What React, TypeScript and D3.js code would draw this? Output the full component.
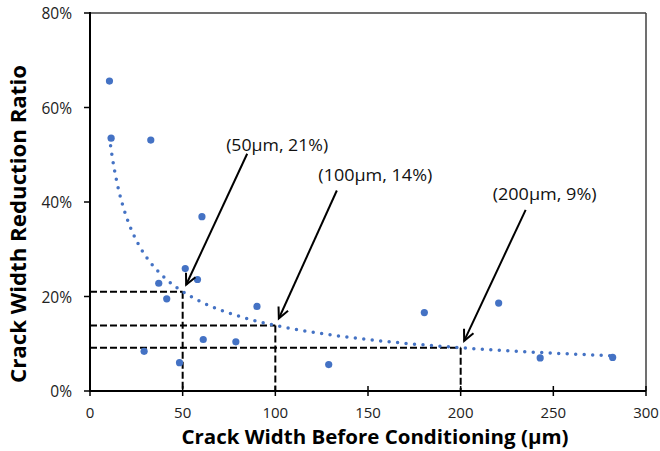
import * as d3 from "d3";

// crack width before conditioning (µm) and reduction ratio
const crackWidths = [10.5, 11.4, 32.8, 60.4, 51.4, 58.0, 37.1, 41.4, 90.1, 61.1, 78.7, 29.2, 48.3, 128.8, 180.4, 220.5, 242.9, 282.0];
const reductionRatios = [0.656, 0.535, 0.531, 0.369, 0.259, 0.236, 0.228, 0.195, 0.179, 0.109, 0.104, 0.084, 0.06, 0.056, 0.166, 0.186, 0.07, 0.071];

// power trendline y = a * x^b (as fitted in the original)
const trendA = 2.2;
const trendB = -0.6;

const xTicks = [0, 50, 100, 150, 200, 250, 300];
const yTicks = [0, 0.2, 0.4, 0.6, 0.8];

const calloutX = [50, 100, 200];
const calloutY = [0.21, 0.1386, 0.0914];
const calloutLabels = ["(50μm, 21%)", "(100μm, 14%)", "(200μm, 9%)"];

const blue = "#4472C4";
const font = "'Open Sans', 'Liberation Sans', sans-serif";

export default function App() {
  const width = 660;
  const height = 451;
  const marginLeft = 90;
  const marginRight = 14;
  const marginTop = 13;
  const marginBottom = 60;

  const x = d3.scaleLinear().domain([0, 300]).range([marginLeft, width - marginRight]);
  const y = d3.scaleLinear().domain([0, 0.8]).range([height - marginBottom, marginTop]);

  const points = crackWidths.map((w, i) => ({ w, r: reductionRatios[i] }));
  const [xMin, xMax] = d3.extent(crackWidths) as [number, number];
  const trendData = d3.range(xMin, xMax + 0.01, 0.5).map((w) => ({ w, r: trendA * Math.pow(w, trendB) }));
  const trendLine = d3
    .line<{ w: number; r: number }>()
    .x((d) => x(d.w))
    .y((d) => y(d.r));

  // label placement relative to the arrow tip (pixels)
  const labelOffsets = [
    { lx: 91, ly: -134, sx: 61, sy: -131, len: 102 },
    { lx: 96.5, ly: -138, sx: 58, sy: -128, len: 114 },
    { lx: 80.5, ly: -141, sx: 61.5, sy: -131, len: 104 },
  ];

  const x0 = x(0);
  const y0 = y(0);

  return (
    <svg width={width} height={height} style={{ position: "absolute", left: 0, top: 0, background: "white" }}>
      {/* frame */}
      <line x1={x0} x2={x(300)} y1={y(0.8)} y2={y(0.8)} stroke="#404040" strokeWidth={1.5} />
      <line x1={x(300)} x2={x(300)} y1={y(0.8)} y2={y0} stroke="#404040" strokeWidth={1.5} />

      {/* dashed guide lines */}
      {calloutX.map((cx, i) => (
        <g key={"guide" + cx}>
          <line
            x1={x0}
            x2={x(cx)}
            y1={y(calloutY[i])}
            y2={y(calloutY[i])}
            stroke="black"
            strokeWidth={2}
            strokeDasharray="7 3"
          />
          <line
            x1={x(cx)}
            x2={x(cx)}
            y1={y(calloutY[i])}
            y2={y0}
            stroke="black"
            strokeWidth={2}
            strokeDasharray="7 3"
          />
        </g>
      ))}

      {/* trendline */}
      <path
        d={trendLine(trendData) ?? ""}
        fill="none"
        stroke={blue}
        strokeWidth={3.5}
        strokeLinecap="round"
        strokeDasharray="0 8.5"
      />

      {/* points */}
      {points.map((d, i) => (
        <circle key={i} cx={x(d.w)} cy={y(d.r)} r={3.6} fill={blue} />
      ))}

      {/* callouts */}
      {calloutX.map((cx, i) => {
        const tx = x(cx) + 3.5;
        const ty = y(calloutY[i]) - 7;
        const o = labelOffsets[i];
        const sx = tx + o.sx;
        const sy = ty + o.sy;
        const ang = Math.atan2(sy - ty, sx - tx);
        const head = 12;
        const spread = 0.45;
        const h1 = [tx + head * Math.cos(ang - spread), ty + head * Math.sin(ang - spread)];
        const h2 = [tx + head * Math.cos(ang + spread), ty + head * Math.sin(ang + spread)];
        return (
          <g key={"call" + cx}>
            <line x1={sx} y1={sy} x2={tx} y2={ty} stroke="black" strokeWidth={2} />
            <polyline
              points={`${h1[0]},${h1[1]} ${tx},${ty} ${h2[0]},${h2[1]}`}
              fill="none"
              stroke="black"
              strokeWidth={2}
            />
            <text
              x={tx + o.lx}
              y={ty + o.ly}
              textAnchor="middle"
              fontFamily={font}
              fontSize={16.5}
              fill="#111"
              textLength={o.len}
              lengthAdjust="spacingAndGlyphs"
            >
              {calloutLabels[i]}
            </text>
          </g>
        );
      })}

      {/* x axis */}
      <line x1={x0 - 1} x2={x(300)} y1={y0} y2={y0} stroke="black" strokeWidth={2} />
      {xTicks.map((t) => (
        <g key={"xt" + t}>
          <line x1={x(t)} x2={x(t)} y1={y0 - 5} y2={y0 + 5} stroke="black" strokeWidth={1.5} />
          <text x={x(t)} y={y0 + 27} textAnchor="middle" fontFamily={font} fontSize={15} fill="#222">
            {t}
          </text>
        </g>
      ))}

      {/* y axis */}
      <line x1={x0} x2={x0} y1={y(0.8) - 1} y2={y0 + 1} stroke="black" strokeWidth={2} />
      {yTicks.map((t) => (
        <g key={"yt" + t}>
          <line x1={x0 - 6} x2={x0} y1={y(t)} y2={y(t)} stroke="black" strokeWidth={1.5} />
          <text
            x={x0 - 18}
            y={y(t)}
            textAnchor="end"
            dominantBaseline="central"
            fontFamily={font}
            fontSize={15.5}
            fill="#222"
          >
            {d3.format(".0%")(t)}
          </text>
        </g>
      ))}

      {/* axis titles */}
      <text
        x={375}
        y={444}
        textAnchor="middle"
        fontFamily={font}
        fontWeight="bold"
        fontSize={20}
        fill="black"
        textLength={387}
        lengthAdjust="spacingAndGlyphs"
      >
        Crack Width Before Conditioning (μm)
      </text>
      <text
        transform="translate(26,224) rotate(-90)"
        textAnchor="middle"
        fontFamily={font}
        fontWeight="bold"
        fontSize={21}
        fill="black"
        textLength={318}
        lengthAdjust="spacingAndGlyphs"
      >
        Crack Width Reduction Ratio
      </text>
    </svg>
  );
}
